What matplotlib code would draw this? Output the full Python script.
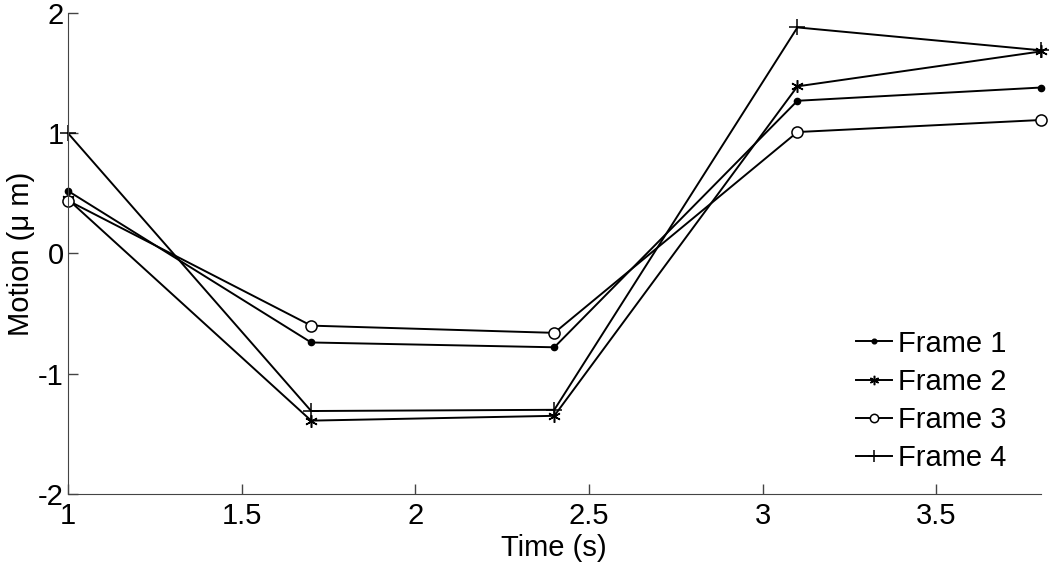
import matplotlib
matplotlib.use("Agg")
import matplotlib.pyplot as plt

# data
time_s = [1.0, 1.7, 2.4, 3.1, 3.8]
frame1 = [0.52, -0.74, -0.78, 1.27, 1.38]
frame2 = [0.45, -1.39, -1.35, 1.39, 1.68]
frame3 = [0.44, -0.60, -0.66, 1.01, 1.11]
frame4 = [1.00, -1.31, -1.30, 1.88, 1.69]
labels = ["Frame 1", "Frame 2", "Frame 3", "Frame 4"]

plt.rcParams['font.family'] = ['Liberation Sans', 'DejaVu Sans']

fig = plt.figure(figsize=(10.5, 5.65), dpi=100)
ax = fig.add_axes([0.0648, 0.1257, 0.9262, 0.8513])

lw = 1.4
ax.plot(time_s, frame1, color='black', lw=lw, marker='o', ms=4.5, label=labels[0], clip_on=False)
ax.plot(time_s, frame2, color='black', lw=lw, marker=(6, 2, 0), ms=9, mew=1.1, label=labels[1], clip_on=False)
ax.plot(time_s, frame3, color='black', lw=lw, marker='o', ms=8, mfc='white', mew=1.1, label=labels[2], clip_on=False)
ax.plot(time_s, frame4, color='black', lw=lw, marker='+', ms=12, mew=1.1, label=labels[3], clip_on=False)

ax.set_xlim(1, 3.8)
ax.set_ylim(-2, 2)
ax.set_xticks([1, 1.5, 2, 2.5, 3, 3.5])
ax.set_xticklabels(['1', '1.5', '2', '2.5', '3', '3.5'])
ax.set_yticks([-2, -1, 0, 1, 2])
ax.set_yticklabels(['-2', '-1', '0', '1', '2'])

ax.spines['top'].set_visible(False)
ax.spines['right'].set_visible(False)
ax.spines['left'].set_color('#444444')
ax.spines['bottom'].set_color('#444444')
ax.tick_params(direction='in', length=7, width=1, color='#444444', labelsize=21)
ax.tick_params(axis='x', pad=6)
ax.tick_params(axis='y', pad=3)

ax.set_xlabel('Time (s)', fontsize=21, labelpad=3)
ax.set_ylabel('Motion (\u03bc m)', fontsize=21, labelpad=2)

ax.legend(loc='lower right', bbox_to_anchor=(0.983, 0.009), frameon=False, fontsize=21,
          handlelength=1.25, handletextpad=0.2, labelspacing=0.35, markerscale=0.75,
          borderaxespad=0.2)

fig.savefig('out.png', dpi=100, facecolor='white')
